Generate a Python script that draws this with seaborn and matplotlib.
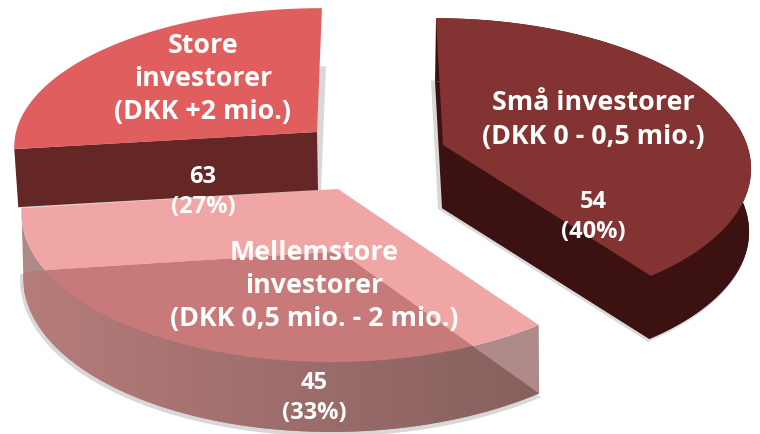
import numpy as np
import matplotlib
matplotlib.use("Agg")
import matplotlib.pyplot as plt
from matplotlib.colors import LinearSegmentedColormap
from matplotlib.patches import Polygon
import seaborn as sns

# ---- data ----
categories = ["Små investorer\n(DKK 0 - 0,5 mio.)",
              "Mellemstore\ninvestorer\n(DKK 0,5 mio. - 2 mio.)",
              "Store\ninvestorer\n(DKK +2 mio.)"]
counts = [54, 45, 63]
shares = [40, 33, 27]

sns.set_theme(style="white")
plt.rcParams["font.family"] = ["Open Sans", "DejaVu Sans"]
palette = sns.color_palette(["#843333", "#EFA6A5", "#E15E5E"])

fig = plt.figure(figsize=(7.6, 4.34), dpi=100)
ax = fig.add_axes([0, 0, 1, 1])
ax.set_xlim(0, 760)
ax.set_ylim(434, 0)
ax.axis("off")

# slice angles come from the shares, clockwise from 12 o'clock
edges = 90 - 3.6 * np.concatenate([[0], np.cumsum(shares)])


def rim(i, apex, A, B, k, s, n=120):
    th = np.radians(np.linspace(edges[i], edges[i + 1], n))
    X, Y = np.cos(th), np.sin(th)
    w = 1 + k * Y
    up = B * Y / w
    return np.column_stack([apex[0] + A * X / w + s * up, apex[1] - up])


def sector(i, apex, A, B, k, s):
    return np.vstack([[apex], rim(i, apex, A, B, k, s)])


def fill(pts, color, z, **kw):
    p = Polygon(pts, closed=True, facecolor=color, edgecolor="none", zorder=z, **kw)
    ax.add_patch(p)
    return p


SHADOW = "#808080"

# ---- small investors (slice 0) ----
t0 = dict(apex=(443, 145), A=304, B=144, k=0.136, s=-0.055)
b0 = dict(apex=(442, 208), A=303, B=144, k=0.136, s=-0.055)
top0, bot0 = rim(0, **t0), rim(0, **b0)
fill(sector(0, (438, 209), 307, 146, 0.136, -0.055), SHADOW, 1, alpha=0.3)
dark0 = "#3B1211"
fill(sector(0, **b0), dark0, 2)
fill(np.vstack([top0, bot0[::-1]]), dark0, 2)
fill(np.array([t0["apex"], top0[-1], bot0[-1], b0["apex"]]), dark0, 2)
fill(sector(0, **t0), palette[0], 3)

# ---- large investors (slice 2) ----
t2 = dict(apex=(317, 132), A=301, B=135, k=0.09, s=0.04)
b2 = dict(apex=(318, 190), A=298, B=135, k=0.09, s=0.04)
top2, bot2 = rim(2, **t2), rim(2, **b2)
fill(sector(2, (321, 191), 301, 136, 0.09, 0.04), SHADOW, 1, alpha=0.3)
wall2 = "#652626"
face2 = np.array([t2["apex"], top2[0], bot2[0], b2["apex"]])
fill(face2, wall2, 6)
fill(sector(2, **t2), palette[2], 7)

# ---- medium investors (slice 1), see-through ----
t1 = dict(apex=(338, 189), A=313, B=150, k=0.133, s=0.04)
b1 = dict(apex=(340, 252), A=313, B=156, k=0.133, s=0.05)
top1, bot1 = rim(1, **t1), rim(1, **b1)
fill(sector(1, (340, 254), 316, 158, 0.133, 0.05), SHADOW, 1, alpha=0.3)
band1 = np.vstack([top1, bot1[::-1]])
fill(band1, "#AF8A88", 2)
fill(sector(1, **t1), palette[1], 2.1)

bottom_patch = fill(sector(1, **b1), "none", 2.2)
cmap = LinearSegmentedColormap.from_list("wall", ["#B67C7A", "#86605E"])
grad = ax.imshow(np.linspace(0, 1, 256)[None, :], extent=(24, 540, 434, 240),
                 aspect="auto", cmap=cmap, zorder=2.3)
grad.set_clip_path(bottom_patch)
overlap = fill(sector(1, **t1), "#C87A7A", 2.4)
overlap.set_clip_path(bottom_patch)

# medium slice overlaid on the wall of the large slice
strip_clip = fill(face2, "none", 8)
strip = fill(sector(1, **t1), "#A63B3B", 9)
strip.set_clip_path(strip_clip)

ax.set_xlim(0, 760)
ax.set_ylim(434, 0)

# ---- labels ----
name_pos = [(593, 120), (314, 286), (203, 79)]
value_pos = [(593, 217), (314, 398), (203, 192)]
for name, n, pct, np_, vp in zip(categories, counts, shares, name_pos, value_pos):
    ax.text(*np_, name, color="white", fontsize=19.3, fontweight="bold",
            ha="center", va="center", linespacing=1.36, zorder=12)
    ax.text(*vp, f"{n}\n({pct}%)", color="white", fontsize=17, fontweight="bold",
            ha="center", va="center", linespacing=1.3, zorder=12)

fig.savefig("out.png", dpi=100)
